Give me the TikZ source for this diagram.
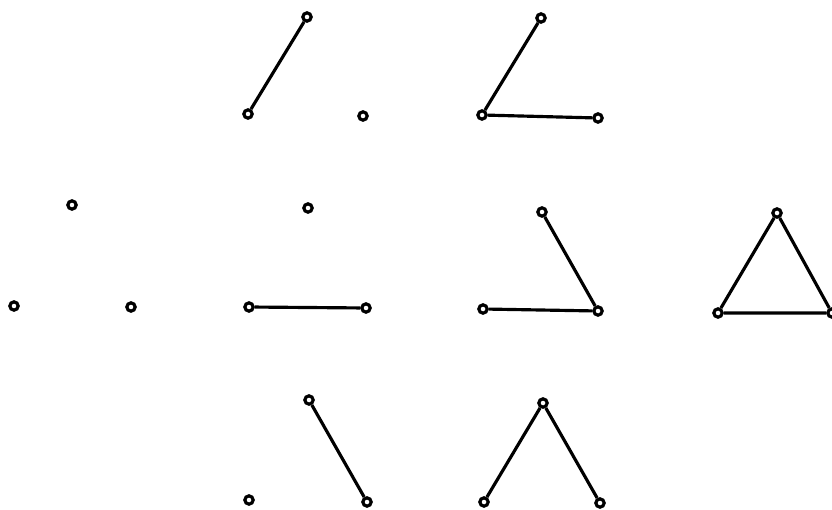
\documentclass[tikz,border=0pt]{standalone}
\usepackage{tikz}

\begin{document}
\begin{tikzpicture}[x=0.03cm, y=-0.03cm,
        vtx/.style={circle, draw, fill=white, line width=2.7pt, minimum size=0.25cm, inner sep=0pt},
        edg/.style={line width=2.7pt}]
                        \useasboundingbox (0,0) rectangle (832,510);
                        % the eight graphs on three vertices: top (t), left (l), right (r)
                        \foreach \g/\tx/\ty/\lx/\ly/\rx/\ry in {
                            a/72/205/14/306/131/307,
                            b/307/17/248/114/363/116,
                            c/541/18/482/115/598/118,
                            d/308/208/249/307/366/308,
                            e/542/212/483/309/598/311,
                            f/777/213/718/313/832/313,
                            g/309/400/249/500/367/502,
                            h/543/403/484/502/600/503} {
                            \node[vtx] (\g t) at (\tx,\ty) {};
                            \node[vtx] (\g l) at (\lx,\ly) {};
                            \node[vtx] (\g r) at (\rx,\ry) {};
                        }
                        \draw[edg] (bt) -- (bl);
                        \draw[edg] (ct) -- (cl) -- (cr);
                        \draw[edg] (dl) -- (dr);
                        \draw[edg] (et) -- (er) -- (el);
                        \draw[edg] (ft) -- (fl) -- (fr) -- (ft);
                        \draw[edg] (gt) -- (gr);
                        \draw[edg] (hl) -- (ht) -- (hr);
                    \end{tikzpicture}
\end{document}
